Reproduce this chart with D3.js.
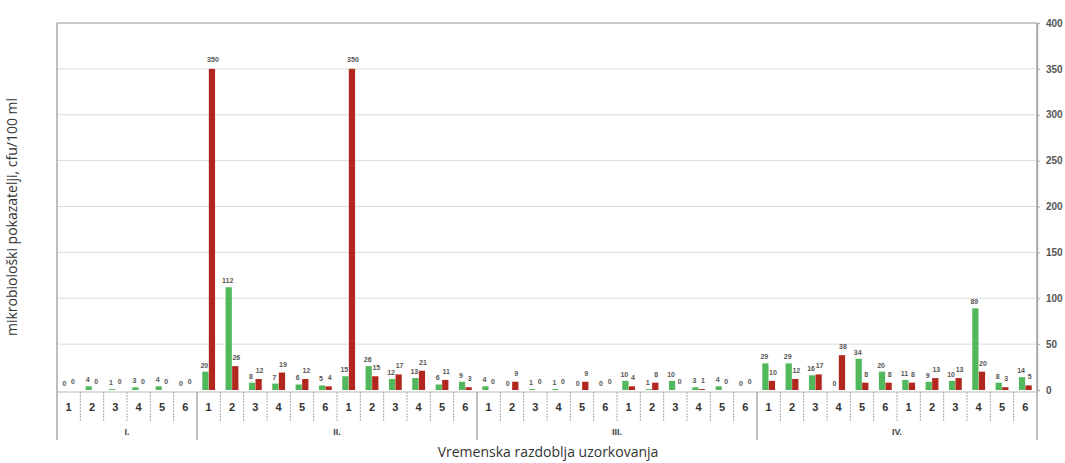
<!DOCTYPE html>
<html>
<head>
<meta charset="utf-8">
<script src="https://cdn.jsdelivr.net/npm/d3@7"></script>
<style>
  html, body { margin: 0; padding: 0; background: #fff; }
  svg { display: block; }
</style>
</head>
<body>
<svg id="chart" width="1065" height="463"></svg>
<script>
// Sampling periods and the number of samples taken in each
const periods = ["I.", "II.", "III.", "IV."];
const periodSizes = [6, 12, 12, 12];

// Sample numbers shown under each pair of bars
const sampleLabels = [
  "1","2","3","4","5","6",
  "1","2","3","4","5","6","1","2","3","4","5","6",
  "1","2","3","4","5","6","1","2","3","4","5","6",
  "1","2","3","4","5","6","1","2","3","4","5","6"
];

// Microbiological indicators, cfu/100 ml
const greenSeries = [
  0, 4, 1, 3, 4, 0,
  20, 112, 8, 7, 6, 5, 15, 26, 12, 13, 6, 9,
  4, 0, 1, 1, 0, 0, 10, 1, 10, 3, 4, 0,
  29, 29, 16, 0, 34, 20, 11, 9, 10, 89, 8, 14
];
const redSeries = [
  0, 0, 0, 0, 0, 0,
  350, 26, 12, 19, 12, 4, 350, 15, 17, 21, 11, 3,
  0, 9, 0, 0, 9, 0, 4, 8, 0, 1, 0, 0,
  10, 12, 17, 38, 8, 8, 8, 13, 13, 20, 3, 5
];

const yTicks = [0, 50, 100, 150, 200, 250, 300, 350, 400];

const svg = d3.select("#chart");
const plotLeft = 57, plotRight = 1037, plotTop = 23, base = 390;

const idx = d3.range(sampleLabels.length);
const x = d3.scaleBand().domain(idx).range([plotLeft, plotRight]).paddingInner(0).paddingOuter(0);
const inner = d3.scaleBand().domain(["g", "r"]).range([0, x.bandwidth()]).paddingInner(0.05).paddingOuter(0.8);
const y = d3.scaleLinear().domain([0, 400]).range([base, plotTop]);

// gridlines
svg.append("g")
  .selectAll("line")
  .data(yTicks.filter(d => d > 0))
  .join("line")
  .attr("x1", plotLeft).attr("x2", plotRight)
  .attr("y1", d => y(d)).attr("y2", d => y(d))
  .attr("stroke", "#dcdcdc").attr("stroke-width", 1);

// plot border (top)
svg.append("line").attr("x1", plotLeft).attr("x2", plotRight).attr("y1", plotTop).attr("y2", plotTop)
  .attr("stroke", "#bdbdbd").attr("stroke-width", 1.5);

// right value axis
const yAxis = d3.axisRight(y).tickValues(yTicks).tickSize(3).tickPadding(6);
const ya = svg.append("g").attr("transform", `translate(${plotRight},0)`).call(yAxis);
ya.select(".domain").attr("stroke", "#b0b0b0").attr("stroke-width", 1.5);
ya.selectAll(".tick line").attr("stroke", "#b0b0b0");
ya.selectAll(".tick text")
  .attr("font-family", "Liberation Sans, Arial, sans-serif")
  .attr("font-size", 10).attr("font-weight", "bold").attr("fill", "#555");

// bars
const bars = svg.append("g");
bars.selectAll("rect.g")
  .data(idx)
  .join("rect")
  .attr("class", "g")
  .attr("x", i => x(i) + inner("g"))
  .attr("width", inner.bandwidth())
  .attr("y", i => y(greenSeries[i]))
  .attr("height", i => base - y(greenSeries[i]))
  .attr("fill", "#52b85c");
bars.selectAll("rect.r")
  .data(idx)
  .join("rect")
  .attr("class", "r")
  .attr("x", i => x(i) + inner("r"))
  .attr("width", inner.bandwidth())
  .attr("y", i => y(redSeries[i]))
  .attr("height", i => base - y(redSeries[i]))
  .attr("fill", "#b3261e");

// value labels
const lab = svg.append("g")
  .attr("font-family", "Liberation Sans, Arial, sans-serif")
  .attr("font-size", 7).attr("font-weight", "bold").attr("fill", "#555")
  .attr("text-anchor", "middle");
lab.selectAll("text.g")
  .data(idx)
  .join("text")
  .attr("class", "g")
  .attr("x", i => x(i) + inner("g") + inner.bandwidth() / 2 - 1)
  .attr("y", i => y(greenSeries[i]) - 4)
  .text(i => greenSeries[i]);
lab.selectAll("text.r")
  .data(idx)
  .join("text")
  .attr("class", "r")
  .attr("x", i => x(i) + inner("r") + inner.bandwidth() / 2 + 1)
  .attr("y", i => y(redSeries[i]) - (redSeries[i] > 300 ? 7 : 6))
  .text(i => redSeries[i]);

// category table below the plot
const tableTop = base + 2, rowBottom = 421, tableBottom = 440;
svg.append("line").attr("x1", plotLeft).attr("x2", plotRight).attr("y1", tableTop).attr("y2", tableTop)
  .attr("stroke", "#b8b8b8").attr("stroke-width", 1.2);

// period boundaries
let acc = 0;
const bounds = [0];
periodSizes.forEach(n => { acc += n; bounds.push(acc); });
const boundX = k => k >= sampleLabels.length ? plotRight : x(k);

// separators between samples
svg.append("g")
  .selectAll("line")
  .data(idx.filter(i => i > 0 && !bounds.includes(i)))
  .join("line")
  .attr("x1", i => x(i)).attr("x2", i => x(i))
  .attr("y1", tableTop).attr("y2", rowBottom)
  .attr("stroke", "#a8a8a8").attr("stroke-width", 1)
  .attr("stroke-dasharray", "2,1");

svg.append("g")
  .selectAll("line")
  .data(bounds)
  .join("line")
  .attr("x1", k => boundX(k)).attr("x2", k => boundX(k))
  .attr("y1", (k, j) => (j === 0 || j === bounds.length - 1) ? plotTop : tableTop)
  .attr("y2", tableBottom)
  .attr("stroke", "#a8a8a8").attr("stroke-width", 1.5);

// sample numbers
svg.append("g")
  .attr("font-family", "Liberation Sans, Arial, sans-serif")
  .attr("font-size", 11).attr("font-weight", "bold").attr("fill", "#333")
  .attr("text-anchor", "middle")
  .selectAll("text")
  .data(idx)
  .join("text")
  .attr("x", i => x(i) + x.bandwidth() / 2)
  .attr("y", 411)
  .text(i => sampleLabels[i]);

// period names
svg.append("g")
  .attr("font-family", "Liberation Sans, Arial, sans-serif")
  .attr("font-size", 9).attr("font-weight", "bold").attr("fill", "#444")
  .attr("text-anchor", "middle")
  .selectAll("text")
  .data(periods)
  .join("text")
  .attr("x", (p, j) => (boundX(bounds[j]) + boundX(bounds[j + 1])) / 2)
  .attr("y", 435)
  .text(p => p);

// axis titles
svg.append("text")
  .attr("transform", "translate(17,217) rotate(-90)")
  .attr("text-anchor", "middle")
  .attr("font-family", "Open Sans, Noto Sans, sans-serif")
  .attr("font-size", 14).attr("fill", "#333")
  .text("mikrobiološki pokazatelji, cfu/100 ml");

svg.append("text")
  .attr("x", 548).attr("y", 457)
  .attr("text-anchor", "middle")
  .attr("font-family", "Open Sans, Noto Sans, sans-serif")
  .attr("font-size", 14).attr("fill", "#333")
  .text("Vremenska razdoblja uzorkovanja");
</script>
</body>
</html>
